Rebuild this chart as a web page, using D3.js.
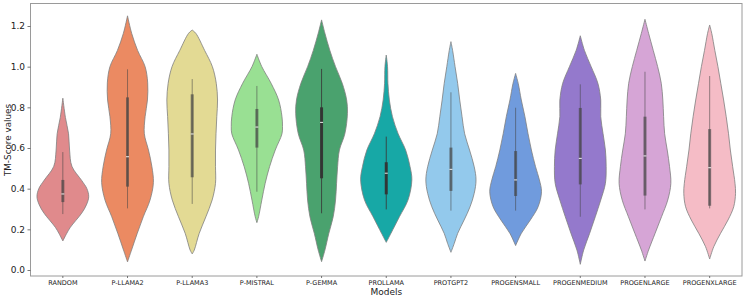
<!DOCTYPE html>
<html>
<head>
<meta charset="utf-8">
<script src="https://cdn.jsdelivr.net/npm/d3@7"></script>
<style>
  body { margin: 0; background: #fff; }
  svg { display: block; font-family: "DejaVu Sans", sans-serif; }
</style>
</head>
<body>
<div id="chart"></div>
<script>
// models and their colours
var models = ["RANDOM","P-LLAMA2","P-LLAMA3","P-MISTRAL","P-GEMMA","PROLLAMA","PROTGPT2","PROGENSMALL","PROGENMEDIUM","PROGENLARGE","PROGENXLARGE"]
var colors = ["#e08a8c","#eb8a62","#e3da94","#99e093","#4aa26e","#17a8a6","#93c9ec","#709bdd","#9479cc","#d6a5d6","#f5bcc6"]

// box statistics
var whiskerLow  = [0.275, 0.303, 0.325, 0.385, 0.279, 0.298, 0.292, 0.292, 0.262, 0.298, 0.303]
var q1          = [0.334, 0.410, 0.456, 0.602, 0.451, 0.372, 0.389, 0.364, 0.421, 0.366, 0.316]
var medians     = [0.374, 0.557, 0.669, 0.703, 0.726, 0.476, 0.495, 0.443, 0.549, 0.561, 0.503]
var q3          = [0.443, 0.849, 0.864, 0.792, 0.800, 0.530, 0.602, 0.585, 0.797, 0.754, 0.693]
var whiskerHigh = [0.580, 0.987, 0.939, 0.905, 0.989, 0.656, 0.874, 0.798, 0.913, 0.975, 0.954]

// density profiles: [TM-score, relative half width]
var densities = [
  [[0.143,0],[0.18,0.15],[0.21,0.29],[0.28,0.73],[0.32,0.91],[0.36,1.0],[0.40,0.93],[0.44,0.73],[0.51,0.35],[0.59,0.26],[0.67,0.22],[0.75,0.1],[0.845,0]],
  [[0.04,0],[0.098,0.155],[0.18,0.375],[0.262,0.61],[0.344,0.87],[0.43,1.0],[0.51,0.94],[0.59,0.81],[0.67,0.65],[0.754,0.68],[0.836,0.77],[0.92,0.78],[1.0,0.68],[1.08,0.39],[1.164,0.16],[1.25,0]],
  [[0.079,0],[0.098,0.08],[0.18,0.27],[0.262,0.53],[0.344,0.77],[0.426,0.9],[0.508,0.9],[0.59,0.9],[0.67,0.92],[0.754,0.95],[0.836,0.98],[0.918,0.93],[1.0,0.78],[1.08,0.48],[1.164,0.14],[1.18,0]],
  [[0.233,0],[0.262,0.065],[0.344,0.19],[0.426,0.32],[0.508,0.49],[0.59,0.71],[0.67,0.97],[0.705,0.99],[0.754,0.97],[0.836,0.84],[0.918,0.55],[1.0,0.19],[1.061,0]],
  [[0.041,0],[0.098,0.13],[0.18,0.28],[0.262,0.45],[0.344,0.54],[0.426,0.58],[0.508,0.62],[0.59,0.69],[0.67,0.9],[0.77,1.0],[0.836,0.97],[0.918,0.8],[1.0,0.54],[1.08,0.32],[1.164,0.13],[1.23,0]],
  [[0.136,0],[0.18,0.18],[0.262,0.51],[0.344,0.84],[0.443,0.99],[0.508,0.92],[0.59,0.75],[0.67,0.46],[0.754,0.24],[0.836,0.12],[0.918,0.065],[1.0,0.05],[1.057,0]],
  [[0.087,0],[0.131,0.13],[0.18,0.26],[0.246,0.51],[0.311,0.74],[0.377,0.9],[0.443,0.97],[0.508,0.9],[0.59,0.72],[0.67,0.53],[0.754,0.43],[0.836,0.34],[0.918,0.26],[1.0,0.16],[1.08,0.065],[1.123,0]],
  [[0.12,0],[0.18,0.22],[0.246,0.57],[0.311,0.87],[0.385,1.0],[0.443,0.92],[0.508,0.77],[0.59,0.61],[0.67,0.48],[0.754,0.36],[0.836,0.22],[0.918,0.1],[0.967,0]],
  [[0.028,0],[0.098,0.13],[0.18,0.36],[0.262,0.58],[0.344,0.79],[0.426,0.97],[0.508,1.0],[0.59,0.97],[0.67,0.88],[0.754,0.79],[0.836,0.79],[0.918,0.68],[1.0,0.42],[1.08,0.16],[1.152,0]],
  [[0.044,0],[0.098,0.14],[0.18,0.39],[0.262,0.64],[0.344,0.88],[0.426,1.0],[0.508,0.95],[0.59,0.86],[0.67,0.76],[0.754,0.72],[0.836,0.69],[0.918,0.63],[1.0,0.49],[1.08,0.32],[1.164,0.14],[1.233,0]],
  [[0.054,0],[0.115,0.16],[0.18,0.42],[0.246,0.71],[0.311,0.93],[0.377,1.0],[0.426,0.98],[0.508,0.89],[0.59,0.8],[0.67,0.73],[0.754,0.64],[0.836,0.54],[0.918,0.43],[1.0,0.32],[1.08,0.2],[1.164,0.08],[1.205,0]]
]
var yTicks = [0.0, 0.2, 0.4, 0.6, 0.8, 1.0, 1.2]

var width = 747, height = 299
var plotLeft = 30.5, plotRight = 742, plotTop = 3.5, plotBottom = 276

var svg = d3.select("#chart").append("svg")
  .attr("width", width)
  .attr("height", height)

var x = d3.scaleBand().domain(models).range([plotLeft, plotRight]).padding(0)
var y = d3.scaleLinear().domain([0, 1.2]).range([270, 26])
var w = d3.scaleLinear().domain([0, 1]).range([0, x.bandwidth() * 0.4])

var rows = models.map(function(m, i){
  return {name: m, color: colors[i], dens: densities[i],
    lo: whiskerLow[i], q1: q1[i], med: medians[i], q3: q3[i], hi: whiskerHigh[i], dark: (m == "P-GEMMA" || m == "PROLLAMA")}
})

// violins
var g = svg.append("g")
g.selectAll("path.violin")
  .data(rows)
  .join("path")
    .attr("class", "violin")
    .attr("fill", d => d.color)
    .attr("stroke", "#7f7f7f")
    .attr("stroke-width", 0.8)
    .attr("d", function(d){
      var cx = x(d.name) + x.bandwidth() / 2
      return d3.area()
        .curve(d3.curveCatmullRom.alpha(0.5))
        .y(p => y(p[0]))
        .x0(p => cx - w(p[1]))
        .x1(p => cx + w(p[1]))(d.dens)
    })

// inner boxes
var box = g.selectAll("g.box")
  .data(rows)
  .join("g")
    .attr("class", "box")
    .attr("transform", d => "translate(" + (x(d.name) + x.bandwidth() / 2) + ",0)")

box.append("line")
  .attr("y1", d => y(d.lo))
  .attr("y2", d => y(d.hi))
  .attr("stroke", d => d.dark ? "#3a3a3a" : "#444")
  .attr("stroke-opacity", d => d.dark ? 0.85 : 0.55)
  .attr("stroke-width", 1)

box.append("line")
  .attr("y1", d => y(d.q1))
  .attr("y2", d => y(d.q3))
  .attr("stroke", d => d.dark ? "#333" : "#444")
  .attr("stroke-opacity", d => d.dark ? 0.95 : 0.65)
  .attr("stroke-width", 3)

box.append("line")
  .attr("x1", -1.5).attr("x2", 1.5)
  .attr("y1", d => y(d.med))
  .attr("y2", d => y(d.med))
  .attr("stroke", "#fff")
  .attr("stroke-opacity", 0.9)
  .attr("stroke-width", 1)

// frame
svg.append("rect")
  .attr("x", plotLeft).attr("y", plotTop)
  .attr("width", plotRight - plotLeft).attr("height", plotBottom - plotTop)
  .attr("fill", "none")
  .attr("stroke", "#9a9a9a")
  .attr("stroke-width", 1)

// y axis
var yAxis = svg.append("g")
  .attr("transform", "translate(" + plotLeft + ",0)")
  .call(d3.axisLeft(y).tickValues(yTicks).tickFormat(d3.format(".1f")).tickSize(3).tickPadding(2.5))
yAxis.select(".domain").remove()
yAxis.selectAll("line").attr("stroke", "#555").attr("stroke-width", 0.8)
yAxis.selectAll("text").attr("font-size", 9).attr("fill", "#222").style("font-family", "DejaVu Sans")

// x axis
var xAxis = svg.append("g")
  .attr("transform", "translate(0," + plotBottom + ")")
  .call(d3.axisBottom(x).tickSize(2).tickPadding(2))
xAxis.select(".domain").remove()
xAxis.selectAll("line").attr("stroke", "#555").attr("stroke-width", 0.8)
xAxis.selectAll("text").attr("font-size", 6.5).attr("fill", "#222").style("font-family", "DejaVu Sans")

// labels
svg.append("text")
  .attr("x", (plotLeft + plotRight) / 2)
  .attr("y", 294.5)
  .attr("text-anchor", "middle")
  .attr("font-size", 9)
  .attr("fill", "#222")
  .text("Models")

svg.append("text")
  .attr("transform", "translate(10.5," + 140 + ") rotate(-90)")
  .attr("text-anchor", "middle")
  .attr("font-size", 8.8)
  .attr("fill", "#222")
  .text("TM-Score values")
</script>
</body>
</html>
